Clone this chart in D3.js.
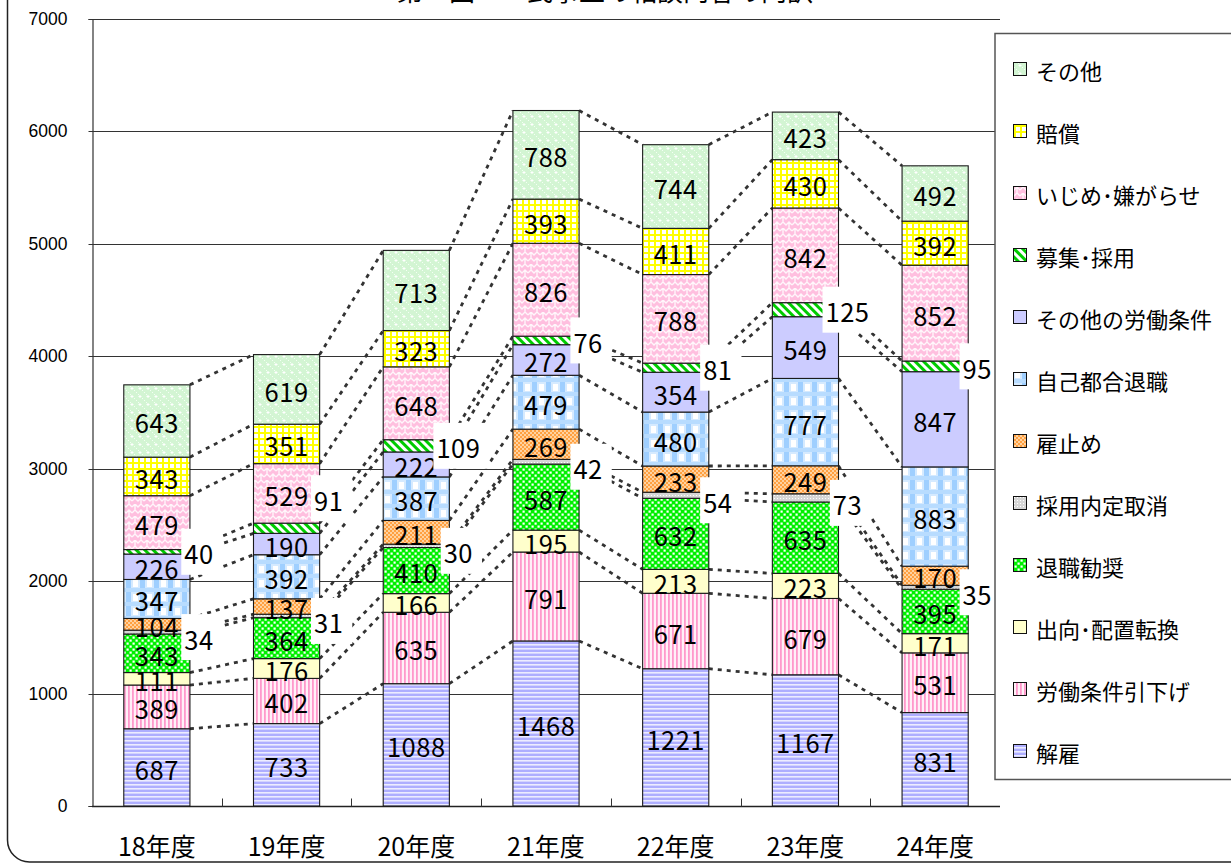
<!DOCTYPE html>
<html lang="ja">
<head>
<meta charset="utf-8">
<script src="https://cdn.jsdelivr.net/npm/d3@7"></script>
<style>
  html, body { margin: 0; padding: 0; background: #fff; }
  svg { display: block; }
</style>
</head>
<body>
<svg id="chart" width="1231" height="864"></svg>
<script>
// 年度別・相談内容別の件数（下から積み上げる順）
const categories = ["18年度", "19年度", "20年度", "21年度", "22年度", "23年度", "24年度"];
const seriesNames = ["解雇", "労働条件引下げ", "出向･配置転換", "退職勧奨", "採用内定取消", "雇止め",
  "自己都合退職", "その他の労働条件", "募集･採用", "いじめ･嫌がらせ", "賠償", "その他"];

const kaiko       = [687, 733, 1088, 1468, 1221, 1167, 831];
const hikisage    = [389, 402, 635, 791, 671, 679, 531];
const shukko      = [111, 176, 166, 195, 213, 223, 171];
const kanshou     = [343, 364, 410, 587, 632, 635, 395];
const naiteiTori  = [34, 31, 30, 42, 54, 73, 35];
const yatoidome   = [104, 137, 211, 269, 233, 249, 170];
const jikoTaishoku= [347, 392, 387, 479, 480, 777, 883];
const sonotaJoken = [226, 190, 222, 272, 354, 549, 847];
const boshu       = [40, 91, 109, 76, 81, 125, 95];
const ijime       = [479, 529, 648, 826, 788, 842, 852];
const baishou     = [343, 351, 323, 393, 411, 430, 392];
const sonota      = [643, 619, 713, 788, 744, 423, 492];

const yTicks = [0, 1000, 2000, 3000, 4000, 5000, 6000, 7000];
const titleText = "第　図　　民事上の相談内容の内訳";

const seriesValues = [kaiko, hikisage, shukko, kanshou, naiteiTori, yatoidome,
  jikoTaishoku, sonotaJoken, boshu, ijime, baishou, sonota];

// 件数の小さい系列はラベルを棒の外に白地で表示する
const outsideSeries = new Set(["採用内定取消", "募集･採用"]);

const table = categories.map((c, i) => {
  const row = { cat: c };
  seriesNames.forEach((s, k) => { row[s] = seriesValues[k][i]; });
  return row;
});
const stacked = d3.stack().keys(seriesNames)(table);

const svg = d3.select("#chart");
const W = 1231, H = 864;
const plot = { left: 92, right: 1000, top: 19, bottom: 806 };

const x = d3.scaleBand().domain(categories).range([plot.left, plot.right])
  .paddingInner(0.49).paddingOuter(0.245);
const y = d3.scaleLinear().domain([0, 7000]).range([plot.bottom, plot.top]);

// ---- 塗りパターン ----
const defs = svg.append("defs");
function pat(id, w, h, draw, transform) {
  const p = defs.append("pattern").attr("id", id).attr("patternUnits", "userSpaceOnUse")
    .attr("width", w).attr("height", h);
  if (transform) p.attr("patternTransform", transform);
  draw(p);
}
// 解雇: 横縞
pat("p0", 4, 4, p => {
  p.append("rect").attr("width", 4).attr("height", 4).attr("fill", "#aeaeff");
  p.append("rect").attr("y", 0).attr("width", 4).attr("height", 1.6).attr("fill", "#ececff");
});
// 労働条件引下げ: 縦縞
pat("p1", 4, 4, p => {
  p.append("rect").attr("width", 4).attr("height", 4).attr("fill", "#fff0f7");
  p.append("rect").attr("x", 0).attr("width", 1.8).attr("height", 4).attr("fill", "#ff99cc");
});
// 出向・配置転換: 淡黄
pat("p2", 4, 4, p => {
  p.append("rect").attr("width", 4).attr("height", 4).attr("fill", "#ffffcc");
});
// 退職勧奨: 緑の市松
pat("p3", 6, 6, p => {
  p.append("rect").attr("width", 6).attr("height", 6).attr("fill", "#00f000");
  p.append("rect").attr("x", 0.5).attr("y", 0.5).attr("width", 2.2).attr("height", 2.2).attr("fill", "#fff");
  p.append("rect").attr("x", 3.5).attr("y", 3.5).attr("width", 2.2).attr("height", 2.2).attr("fill", "#fff");
});
// 採用内定取消: 灰色の点
pat("p4", 3, 3, p => {
  p.append("rect").attr("width", 3).attr("height", 3).attr("fill", "#d6d6d6");
  p.append("rect").attr("width", 1).attr("height", 1).attr("fill", "#ffffff");
});
// 雇止め: 橙の点
pat("p5", 4, 4, p => {
  p.append("rect").attr("width", 4).attr("height", 4).attr("fill", "#ffd2a0");
  p.append("rect").attr("x", 0).attr("y", 0).attr("width", 2).attr("height", 2).attr("fill", "#ffa040");
  p.append("rect").attr("x", 2).attr("y", 2).attr("width", 2).attr("height", 2).attr("fill", "#ffa040");
});
// 自己都合退職: ギンガム
pat("p6", 14, 14, p => {
  p.append("rect").attr("width", 14).attr("height", 14).attr("fill", "#d5eaff");
  p.append("rect").attr("x", 0).attr("width", 5).attr("height", 14).attr("fill", "#9fcfff");
  p.append("rect").attr("y", 0).attr("width", 14).attr("height", 4).attr("fill", "#b8dcff");
  p.append("rect").attr("x", 7).attr("y", 6).attr("width", 5).attr("height", 7).attr("fill", "#ffffff");
});
// その他の労働条件: 薄紫
pat("p7", 4, 4, p => {
  p.append("rect").attr("width", 4).attr("height", 4).attr("fill", "#ccccff");
});
// 募集・採用: 斜線
pat("p8", 6, 6, p => {
  p.append("rect").attr("width", 6).attr("height", 6).attr("fill", "#ffffff");
  p.append("rect").attr("width", 3).attr("height", 6).attr("fill", "#00cc00");
}, "rotate(-45)");
// いじめ・嫌がらせ: 桃色の織り模様
pat("p9", 12, 12, p => {
  p.append("rect").attr("width", 12).attr("height", 12).attr("fill", "#ffbfdf");
  p.append("path").attr("d", "M0,3 L3,0 L6,3 L9,0 L12,3 M0,9 L3,6 L6,9 L9,6 L12,9 M3,0 L3,6 M9,6 L9,12")
    .attr("fill", "none").attr("stroke", "#fff6fb").attr("stroke-width", 1.4);
});
// 賠償: 黄色の格子
pat("p10", 6, 6, p => {
  p.append("rect").attr("width", 6).attr("height", 6).attr("fill", "#ffff00");
  p.append("rect").attr("x", 2).attr("y", 2).attr("width", 4).attr("height", 4).attr("fill", "#ffffff");
});
// その他: 淡緑に白点
pat("p11", 8, 8, p => {
  p.append("rect").attr("width", 8).attr("height", 8).attr("fill", "#d3f5d3");
  p.append("rect").attr("x", 0).attr("y", 0).attr("width", 1).attr("height", 1).attr("fill", "#f4fff4");
  p.append("rect").attr("x", 2).attr("y", 2).attr("width", 1).attr("height", 1).attr("fill", "#f4fff4");
  p.append("rect").attr("x", 6).attr("y", 6).attr("width", 1).attr("height", 1).attr("fill", "#f4fff4");
  p.append("path").attr("d", "M4,3 V6 M2.5,4.5 H5.5").attr("stroke", "#ffffff").attr("stroke-width", 1);
});
const fillOf = k => `url(#p${k})`;

// ---- 外枠 ----
svg.append("rect").attr("x", 7.5).attr("y", -40).attr("width", W + 40).attr("height", 902)
  .attr("rx", 22).attr("fill", "none").attr("stroke", "#222").attr("stroke-width", 1.5);

// ---- タイトル（上端） ----
svg.append("text").attr("x", 397).attr("y", 1)
  .attr("font-family", "'Noto Sans CJK JP', sans-serif").attr("font-size", 26)
  .attr("fill", "#000").text(titleText);

// ---- 目盛線 ----
svg.append("g").selectAll("line").data(yTicks.filter(t => t > 0)).join("line")
  .attr("x1", plot.left).attr("x2", plot.right)
  .attr("y1", d => Math.round(y(d)) + 0.5).attr("y2", d => Math.round(y(d)) + 0.5)
  .attr("stroke", "#333").attr("stroke-width", 1);

// ---- Y軸 ----
const yAxis = svg.append("g").attr("transform", `translate(${plot.left + 0.5},0)`)
  .call(d3.axisLeft(y).tickValues(yTicks).tickFormat(d3.format("d")).tickSize(4).tickPadding(21));
yAxis.select(".domain").attr("stroke", "#333").attr("stroke-width", 1.2);
yAxis.selectAll(".tick line").attr("stroke", "#333");
yAxis.selectAll(".tick text").attr("font-family", "'Liberation Sans', Arial, sans-serif")
  .attr("font-size", 17.5).attr("fill", "#000");
yAxis.selectAll(".tick").attr("transform", d => `translate(0,${Math.round(y(d)) + 0.5})`);

// ---- X軸 ----
const step = x.step();
const xBase = Math.round(y(0)) + 0.5;
svg.append("line").attr("x1", plot.left).attr("x2", plot.right).attr("y1", xBase).attr("y2", xBase)
  .attr("stroke", "#222").attr("stroke-width", 1.5);
svg.append("g").selectAll("line").data(d3.range(1, categories.length)).join("line")
  .attr("x1", i => Math.round(plot.left + i * step) + 0.5).attr("x2", i => Math.round(plot.left + i * step) + 0.5)
  .attr("y1", xBase).attr("y2", xBase - 8).attr("stroke", "#333").attr("stroke-width", 1);
svg.append("g").selectAll("text").data(categories).join("text")
  .attr("x", d => x(d) + x.bandwidth() / 2).attr("y", 845)
  .attr("text-anchor", "middle").attr("dominant-baseline", "central")
  .attr("font-family", "'Noto Sans CJK JP', sans-serif").attr("font-size", 25).attr("fill", "#000")
  .text(d => d);

// ---- 区分線（系列線） ----
const connectors = [];
stacked.forEach(layer => {
  for (let i = 0; i < categories.length - 1; i++) {
    connectors.push({
      x1: x(categories[i]) + x.bandwidth(), y1: y(layer[i][1]),
      x2: x(categories[i + 1]), y2: y(layer[i + 1][1])
    });
  }
});
svg.append("g").selectAll("line").data(connectors).join("line")
  .attr("x1", d => d.x1).attr("y1", d => d.y1).attr("x2", d => d.x2).attr("y2", d => d.y2)
  .attr("stroke", "#333").attr("stroke-width", 2.8).attr("stroke-dasharray", "4,5");

// ---- 積み上げ棒 ----
const barG = svg.append("g");
stacked.forEach((layer, k) => {
  barG.append("g").selectAll("rect").data(layer).join("rect")
    .attr("x", (d, i) => x(categories[i])).attr("width", x.bandwidth())
    .attr("y", d => y(d[1])).attr("height", d => y(d[0]) - y(d[1]))
    .attr("fill", fillOf(k)).attr("stroke", "#1a1a1a").attr("stroke-width", 1.1);
});

// ---- 値ラベル（棒の中） ----
const labelFont = "'Noto Sans CJK JP', sans-serif";
const inner = svg.append("g");
stacked.forEach((layer, k) => {
  if (outsideSeries.has(layer.key)) return;
  inner.append("g").selectAll("text").data(layer).join("text")
    .attr("x", (d, i) => x(categories[i]) + x.bandwidth() / 2)
    .attr("y", d => (y(d[0]) + y(d[1])) / 2 + 1)
    .attr("text-anchor", "middle").attr("dominant-baseline", "central")
    .attr("font-family", labelFont).attr("font-size", 25.5).attr("letter-spacing", 0.5)
    .attr("fill", "#000").text(d => d.data[layer.key]);
});

// ---- 値ラベル（棒の外・白地） ----
const outer = svg.append("g");
stacked.forEach(layer => {
  if (!outsideSeries.has(layer.key)) return;
  layer.forEach((d, i) => {
    const v = d.data[layer.key];
    let cy = (y(d[0]) + y(d[1])) / 2 + (layer.key === "採用内定取消" ? 5 : 0);
    if (layer.key === "募集･採用" && i === 1) cy -= 30;
    const cx = x(categories[i]) + x.bandwidth() + 9;
    const g = outer.append("g");
    const t = g.append("text").attr("x", cx).attr("y", cy + 1)
      .attr("text-anchor", "middle").attr("dominant-baseline", "central")
      .attr("font-family", labelFont).attr("font-size", 25.5).attr("letter-spacing", 0.5)
      .attr("fill", "#000").text(v);
    const bb = t.node().getBBox();
    g.insert("rect", "text").attr("x", bb.x - 3).attr("y", cy - 23)
      .attr("width", bb.width + 12).attr("height", 46).attr("fill", "#fff");
  });
});

// ---- 凡例 ----
const legend = svg.append("g");
legend.append("rect").attr("x", 995).attr("y", 33.5).attr("width", 260).attr("height", 746)
  .attr("fill", "#fff").attr("stroke", "#555").attr("stroke-width", 1.5);
const legendOrder = seriesNames.map((s, k) => ({ s, k })).reverse();
const legendY = d3.scalePoint().domain(legendOrder.map(d => d.s)).range([69, 751]);
const items = legend.selectAll("g.item").data(legendOrder).join("g").attr("class", "item")
  .attr("transform", d => `translate(0,${legendY(d.s)})`);
items.append("rect").attr("x", 1013.5).attr("y", -6.5).attr("width", 13).attr("height", 13)
  .attr("fill", d => fillOf(d.k)).attr("stroke", "#111").attr("stroke-width", 1);
items.append("text").attr("x", 1036).attr("y", 1).attr("dominant-baseline", "central")
  .attr("font-family", "'Noto Sans CJK JP', sans-serif").attr("font-size", 22).attr("fill", "#000")
  .text(d => d.s);
</script>
</body>
</html>
